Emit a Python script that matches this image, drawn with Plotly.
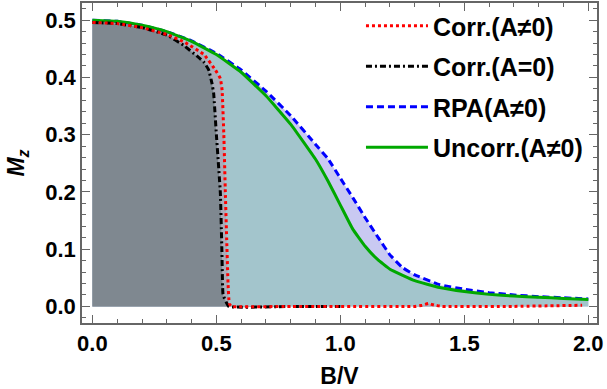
import plotly.graph_objects as go

# ---- data ----
B_uncorr = [0.0, 0.1, 0.2, 0.3, 0.4, 0.5, 0.6, 0.7, 0.8, 0.9, 0.95, 1.0, 1.05, 1.1, 1.15,
            1.2, 1.3, 1.4, 1.5, 1.6, 1.7, 1.8, 1.9, 2.0]
M_uncorr = [0.5, 0.498, 0.491, 0.480, 0.463, 0.440, 0.409, 0.368, 0.318, 0.257, 0.219, 0.177,
            0.135, 0.105, 0.082, 0.065, 0.045, 0.033, 0.026, 0.021, 0.018, 0.016, 0.014, 0.012]

B_rpa = [0.0, 0.1, 0.2, 0.3, 0.4, 0.5, 0.6, 0.7, 0.8, 0.9, 0.95, 1.0, 1.05, 1.1, 1.15, 1.2,
         1.25, 1.3, 1.4, 1.5, 1.6, 1.7, 1.8, 1.9, 2.0]
M_rpa = [0.5, 0.498, 0.491, 0.480, 0.464, 0.442, 0.413, 0.376, 0.333, 0.283, 0.258, 0.224,
         0.190, 0.155, 0.122, 0.090, 0.068, 0.055, 0.038, 0.030, 0.024, 0.020, 0.017, 0.015, 0.013]

B_corr = [0.0, 0.1, 0.2, 0.3, 0.37, 0.45, 0.496, 0.516, 0.523, 0.53, 0.536, 0.542, 0.547,
          0.552, 0.56, 0.8, 1.0, 1.3, 1.33, 1.355, 1.38, 1.41, 1.7, 1.975]
M_corr = [0.496, 0.494, 0.487, 0.475, 0.462, 0.440, 0.413, 0.398, 0.378, 0.300, 0.200, 0.110,
          0.040, 0.005, 0.0, 0.0, 0.0, 0.0, 0.002, 0.005, 0.002, 0.0, 0.0, 0.002]

B_corr0 = [0.0, 0.1, 0.2, 0.3, 0.368, 0.42, 0.449, 0.469, 0.482, 0.489, 0.50, 0.516, 0.522,
           0.525, 0.527, 0.55, 0.8, 1.0]
M_corr0 = [0.496, 0.494, 0.487, 0.474, 0.456, 0.438, 0.427, 0.413, 0.390, 0.372, 0.300, 0.198,
           0.100, 0.035, 0.020, 0.0, 0.0, 0.0]

x_ticks = [0.0, 0.5, 1.0, 1.5, 2.0]
y_ticks = [0.0, 0.1, 0.2, 0.3, 0.4, 0.5]

FONT = "Liberation Sans, Arial, sans-serif"

fig = go.Figure()

# fills (drawn first, opaque, stacked)
fills = [
    (B_rpa, M_rpa, "#c9c9f2"),
    (B_uncorr, M_uncorr, "#a3c5cc"),
    (B_corr, M_corr, "#a9acb9"),
    (B_corr0, M_corr0, "#7f8890"),
]
for bx, my, col in fills:
    fig.add_trace(go.Scatter(x=bx, y=my, mode="lines", line=dict(width=0, color=col, shape="spline", smoothing=0.3),
                             fill="tozeroy", fillcolor=col, showlegend=False, hoverinfo="skip"))

# lines
fig.add_trace(go.Scatter(x=B_rpa, y=M_rpa, mode="lines", name="<b>RPA(A≠0)</b>",
                         line=dict(color="#0000ff", width=3, dash="7px,4px", shape="spline", smoothing=0.3),
                         legendrank=3, legendgroup="c"))
fig.add_trace(go.Scatter(x=B_uncorr, y=M_uncorr, mode="lines", name="<b>Uncorr.(A≠0)</b>",
                         line=dict(color="#00a800", width=3, shape="spline", smoothing=0.3),
                         legendrank=4, legendgroup="d"))
fig.add_trace(go.Scatter(x=B_corr0, y=M_corr0, mode="lines", name="<b>Corr.(A=0)</b>",
                         line=dict(color="black", width=3, dash="6px,3px,2px,3px", shape="spline", smoothing=0.3),
                         legendrank=2, legendgroup="b"))
fig.add_trace(go.Scatter(x=B_corr, y=M_corr, mode="lines", name="<b>Corr.(A≠0)</b>",
                         line=dict(color="#ff0000", width=3, dash="3px,3px", shape="spline", smoothing=0.3),
                         legendrank=1, legendgroup="a"))

axis_common = dict(
    showline=True, linecolor="#666666", linewidth=1.5, mirror="allticks",
    ticks="inside", tickcolor="#666666", ticklen=8, tickwidth=1,
    showgrid=False, zeroline=False, automargin=False,
    tickfont=dict(family=FONT, size=22, color="black", weight="bold"),
)

fig.update_layout(
    width=607, height=389,
    margin=dict(l=82, r=10, t=3, b=66),
    paper_bgcolor="white", plot_bgcolor="white",
    font=dict(family=FONT, color="black"),
    xaxis=dict(range=[-0.042, 2.035], tickvals=x_ticks, ticktext=[f"{v:.1f}" for v in x_ticks],
               minor=dict(dtick=0.1, tick0=0, ticks="inside", ticklen=4, tickcolor="#666666"),
               title=dict(text="<b>B/V</b>", font=dict(family=FONT, size=23), standoff=18),
               **axis_common),
    yaxis=dict(range=[-0.029, 0.53], tickvals=y_ticks, ticktext=[f"{v:.1f}" for v in y_ticks],
               minor=dict(dtick=0.02, tick0=0, ticks="inside", ticklen=4, tickcolor="#666666"),
               title=dict(text="<b><i>M</i></b><sub><b><i>z</i></b></sub>", font=dict(family=FONT, size=23), standoff=14),
               **axis_common),
    legend=dict(x=0.5417, y=1.0, xanchor="left", yanchor="top", bgcolor="rgba(0,0,0,0)",
                font=dict(family=FONT, size=25, color="black"), itemwidth=62, tracegroupgap=5),
)

fig.write_html("out.html", config={"displayModeBar": False},
               post_script="document.body.style.margin='0';")
